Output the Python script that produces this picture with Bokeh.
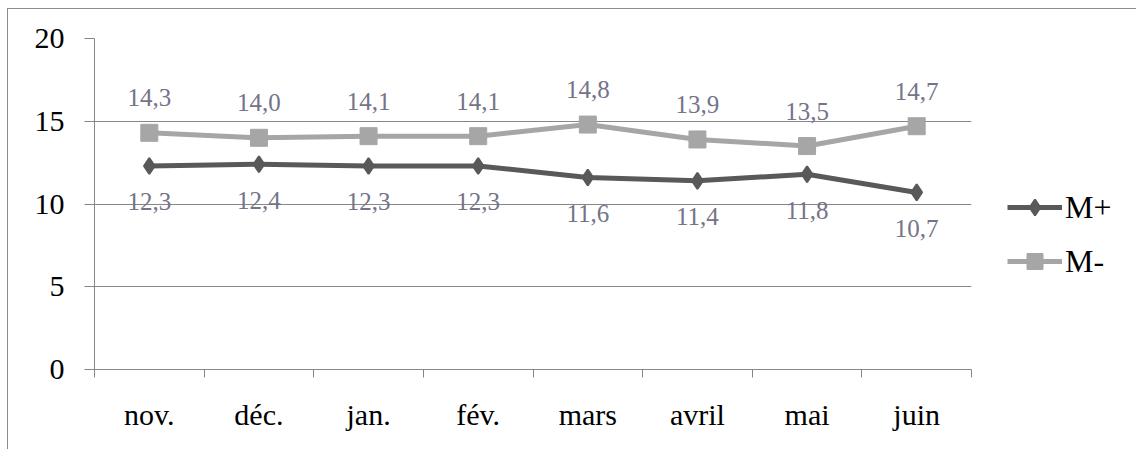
from bokeh.plotting import figure
from bokeh.models import Range1d, FixedTicker, Legend, LegendItem, ColumnDataSource
from bokeh.core.properties import value
from bokeh.embed import file_html
from bokeh.resources import INLINE

months = ["nov.", "déc.", "jan.", "fév.", "mars", "avril", "mai", "juin"]
m_plus = [12.3, 12.4, 12.3, 12.3, 11.6, 11.4, 11.8, 10.7]
m_minus = [14.3, 14.0, 14.1, 14.1, 14.8, 13.9, 13.5, 14.7]
y_ticks = [0, 5, 10, 15, 20]

n = len(months)
xs = [i + 0.5 for i in range(n)]

def fmt(v):
    return f"{v:.1f}".replace(".", ",")

src = ColumnDataSource(dict(
    x=xs, mp=m_plus, mm=m_minus,
    mp_lbl=[fmt(v) for v in m_plus], mm_lbl=[fmt(v) for v in m_minus],
))

SERIF = "Liberation Serif"
GRID = "#868686"
DARK = "#595959"
LIGHT = "#a6a6a6"
LBL = "#747488"

p = figure(frame_width=877, frame_height=331, output_backend="svg", toolbar_location=None,
           x_range=Range1d(0, n), y_range=Range1d(0, 20),
           min_border_left=86, min_border_right=150, min_border_top=29, min_border_bottom=80)
p.styles = {"border-left": "1px solid #8c8c8c", "border-top": "1px solid #8c8c8c",
            "margin-left": "7px", "margin-top": "8px"}
p.outline_line_color = None
p.background_fill_color = "white"
p.border_fill_color = "white"

# axes
p.xaxis.ticker = FixedTicker(ticks=xs, minor_ticks=list(range(n + 1)))
p.xaxis.major_label_overrides = {x: m for x, m in zip(xs, months)}
p.xaxis.major_tick_out = 0
p.xaxis.major_tick_in = 0
p.xaxis.minor_tick_out = 8
p.xaxis.minor_tick_in = 0
p.xaxis.minor_tick_line_color = GRID
p.xaxis.axis_line_color = GRID
p.xaxis.major_label_text_font = SERIF
p.xaxis.major_label_text_font_size = "30px"
p.xaxis.major_label_text_color = "black"
p.xaxis.major_label_standoff = 20

p.yaxis.ticker = FixedTicker(ticks=y_ticks)
p.yaxis.minor_tick_line_color = None
p.yaxis.major_tick_out = 10
p.yaxis.major_tick_in = 0
p.yaxis.major_tick_line_color = GRID
p.yaxis.axis_line_color = GRID
p.yaxis.major_label_text_font = SERIF
p.yaxis.major_label_text_font_size = "30px"
p.yaxis.major_label_text_color = "black"
p.yaxis.major_label_standoff = 20

p.xgrid.grid_line_color = None
p.ygrid.ticker = FixedTicker(ticks=y_ticks)
p.ygrid.grid_line_color = GRID
p.ygrid.grid_line_width = 1

# series
l1 = p.line("x", "mp", source=src, line_color=DARK, line_width=5)
s1 = p.scatter("x", "mp", source=src, marker="diamond", size=16, line_width=2,
               fill_color=DARK, line_color=DARK)
l2 = p.line("x", "mm", source=src, line_color=LIGHT, line_width=5)
s2 = p.scatter("x", "mm", source=src, marker="square", size=17,
               fill_color=LIGHT, line_color=LIGHT)

p.text("x", "mp", text="mp_lbl", source=src, y_offset=36, text_align="center",
       text_baseline="middle", text_font=value(SERIF), text_font_size="25px", text_color=LBL)
p.text("x", "mm", text="mm_lbl", source=src, y_offset=-35, text_align="center",
       text_baseline="middle", text_font=value(SERIF), text_font_size="25px", text_color=LBL)

legend = Legend(items=[LegendItem(label="M+", renderers=[l1, s1]),
                       LegendItem(label="M-", renderers=[l2, s2])],
                location=(36, 88), orientation="vertical",
                padding=0, margin=0, spacing=14, glyph_width=55, glyph_height=40,
                label_standoff=3, label_height=40,
                border_line_color=None, background_fill_alpha=0,
                label_text_font=SERIF, label_text_font_size="32px", label_text_color="black")
p.add_layout(legend, "right")

open("out.html", "w").write(file_html(p, INLINE))
